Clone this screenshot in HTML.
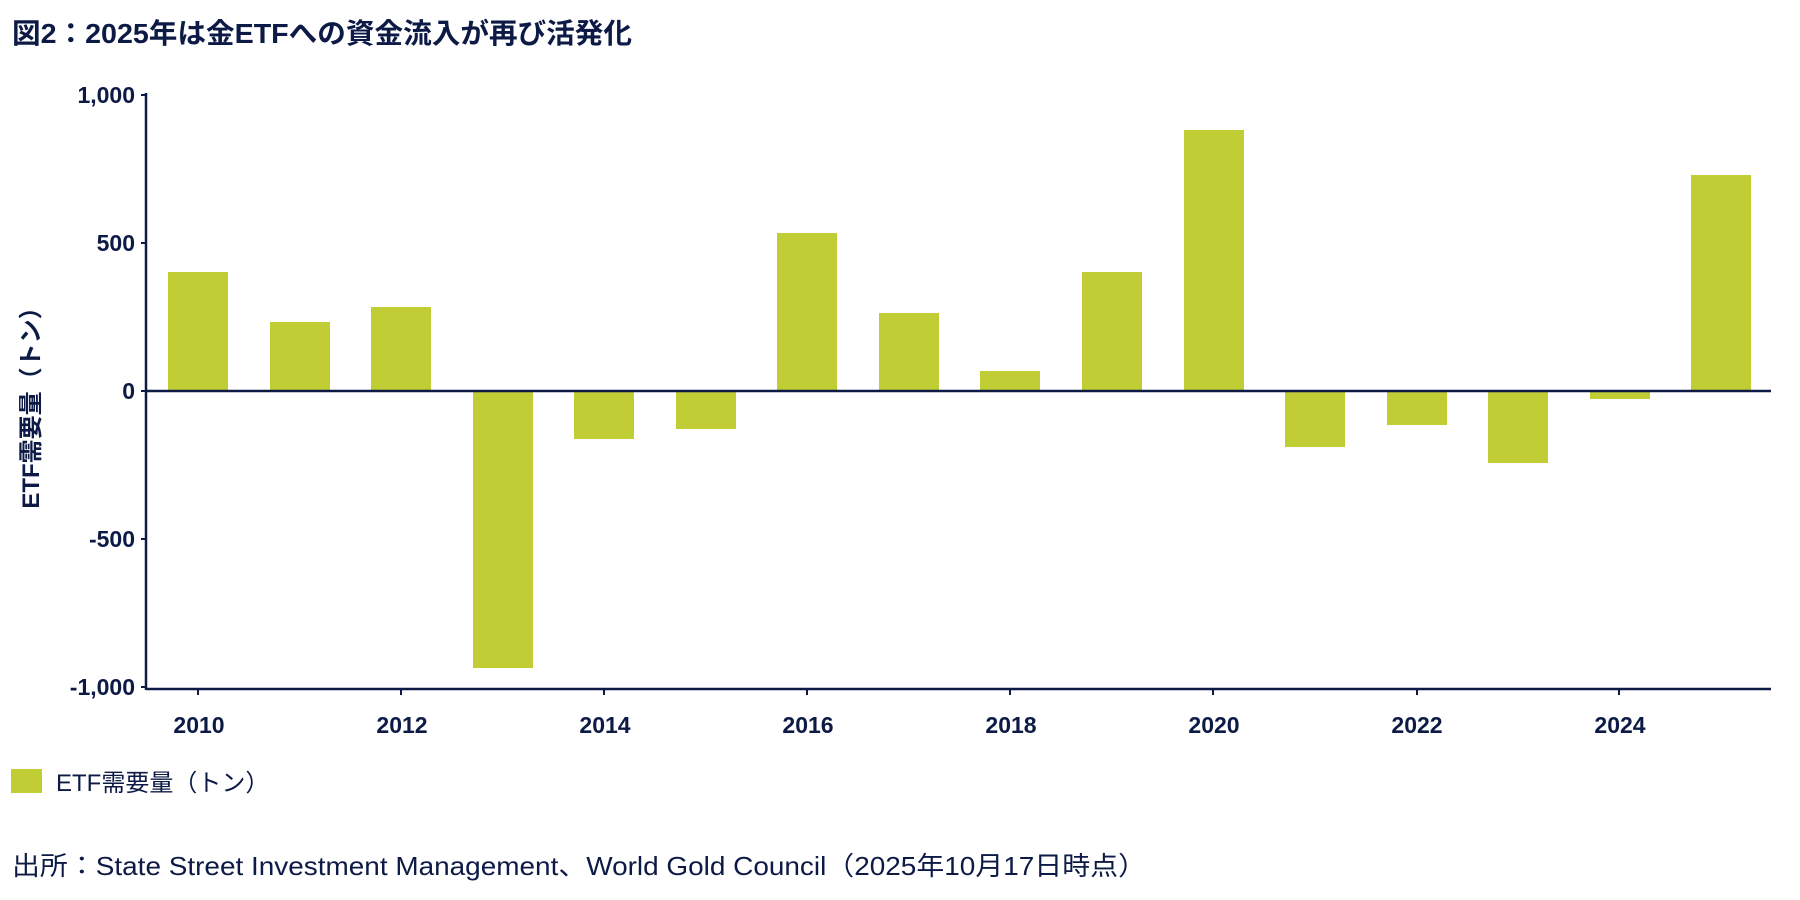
<!DOCTYPE html>
<html><head><meta charset="utf-8"><style>
body{margin:0;background:#fff;width:1800px;height:900px;overflow:hidden;font-family:"Liberation Sans","Noto Sans CJK JP",sans-serif;color:#0c1a45}
</style></head><body>
<svg width="1800" height="900" xmlns="http://www.w3.org/2000/svg" style="position:absolute;left:0;top:0">
<g font-family="Liberation Sans, Noto Sans CJK JP, sans-serif" fill="#0c1a45">
<text x="12" y="43" font-size="28" font-weight="bold" textLength="620" lengthAdjust="spacingAndGlyphs">図2：2025年は金ETFへの資金流入が再び活発化</text>
<g fill="#c0cd34">
<rect x="168" y="272" width="60" height="119"/>
<rect x="270" y="322" width="60" height="69"/>
<rect x="371" y="307" width="60" height="84"/>
<rect x="473" y="391" width="60" height="277"/>
<rect x="574" y="391" width="60" height="48"/>
<rect x="676" y="391" width="60" height="38"/>
<rect x="777" y="233" width="60" height="158"/>
<rect x="879" y="313" width="60" height="78"/>
<rect x="980" y="371" width="60" height="20"/>
<rect x="1082" y="272" width="60" height="119"/>
<rect x="1184" y="130" width="60" height="261"/>
<rect x="1285" y="391" width="60" height="56"/>
<rect x="1387" y="391" width="60" height="34"/>
<rect x="1488" y="391" width="60" height="72"/>
<rect x="1590" y="391" width="60" height="8"/>
<rect x="1691" y="175" width="60" height="216"/>
</g>
<g stroke="#0c1a45" stroke-width="2.5">
<line x1="146" y1="93" x2="146" y2="690"/>
<line x1="146" y1="391" x2="1771" y2="391"/>
<line x1="146" y1="689" x2="1771" y2="689"/>
</g>
<g stroke="#0c1a45" stroke-width="2">
<line x1="141" y1="95" x2="146" y2="95"/><line x1="141" y1="243" x2="146" y2="243"/><line x1="141" y1="391" x2="146" y2="391"/><line x1="141" y1="539" x2="146" y2="539"/><line x1="141" y1="687" x2="146" y2="687"/>
<line x1="198" y1="689" x2="198" y2="695"/><line x1="401" y1="689" x2="401" y2="695"/><line x1="604" y1="689" x2="604" y2="695"/><line x1="807" y1="689" x2="807" y2="695"/><line x1="1010" y1="689" x2="1010" y2="695"/><line x1="1213" y1="689" x2="1213" y2="695"/><line x1="1417" y1="689" x2="1417" y2="695"/><line x1="1619" y1="689" x2="1619" y2="695"/>
</g>
<g font-size="23" font-weight="bold" text-anchor="end">
<text x="135" y="103">1,000</text><text x="135" y="251">500</text><text x="135" y="399">0</text><text x="135" y="547">-500</text><text x="135" y="695">-1,000</text>
</g>
<g font-size="23" font-weight="bold" text-anchor="middle">
<text x="199" y="733">2010</text><text x="402" y="733">2012</text><text x="605" y="733">2014</text><text x="808" y="733">2016</text><text x="1011" y="733">2018</text><text x="1214" y="733">2020</text><text x="1417" y="733">2022</text><text x="1620" y="733">2024</text>
</g>
<text transform="translate(39,402) rotate(-90)" font-size="24" font-weight="bold" text-anchor="middle">ETF需要量（トン）</text>
<rect x="11" y="769" width="31" height="24" fill="#c0cd34"/>
<text x="56" y="791" font-size="24">ETF需要量（トン）</text>
<text x="12" y="875" font-size="26" textLength="1134" lengthAdjust="spacingAndGlyphs">出所：State Street Investment Management、World Gold Council（2025年10月17日時点）</text>
</g>
</svg>
</body></html>
